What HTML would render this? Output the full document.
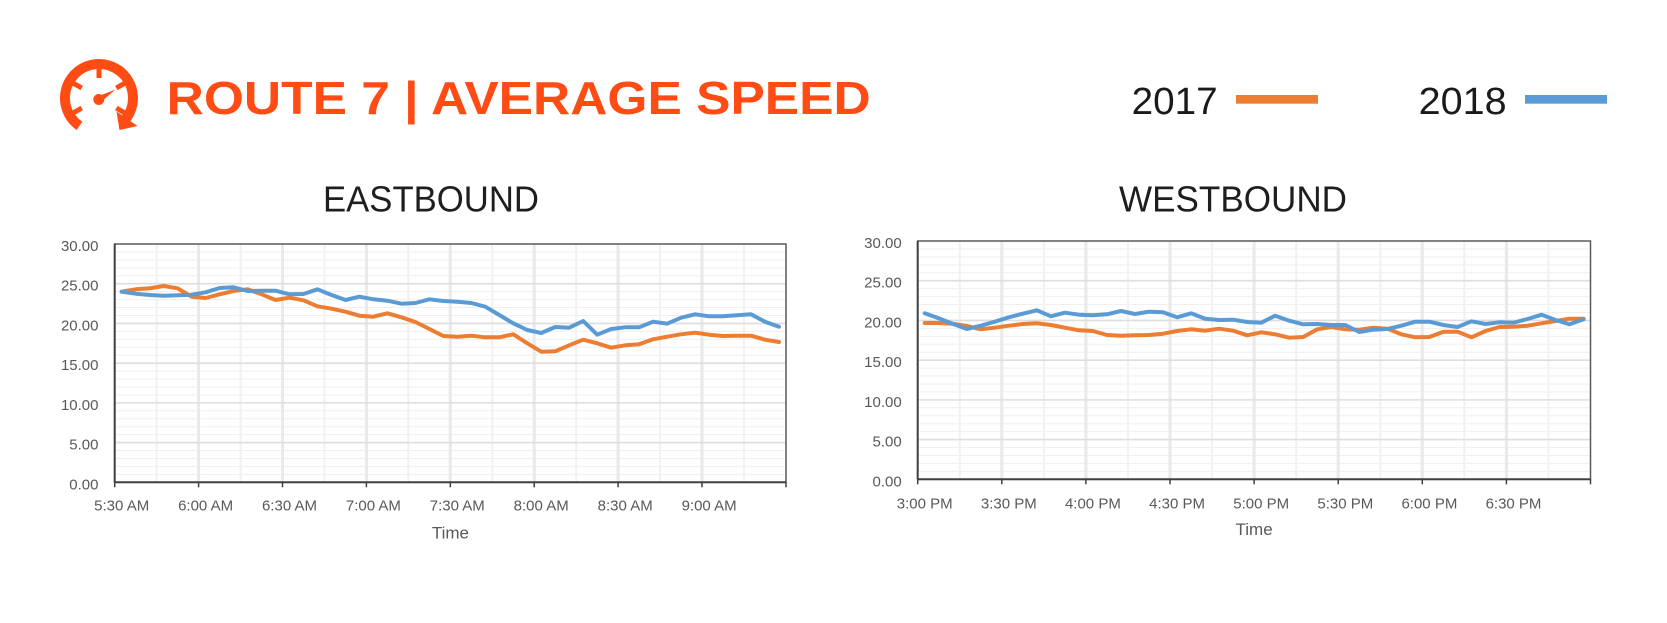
<!DOCTYPE html>
<html>
<head>
<meta charset="utf-8">
<style>
  html,body{margin:0;padding:0;background:#fff;}
  body{width:1667px;height:623px;overflow:hidden;}
  svg{display:block;font-family:"Liberation Sans",sans-serif;}
</style>
</head>
<body>
<svg width="1667" height="623" viewBox="0 0 1667 623" xmlns="http://www.w3.org/2000/svg">
  <rect x="0" y="0" width="1667" height="623" fill="#ffffff"/>

  <!-- ===== Header icon ===== -->
  <g fill="none" stroke="#FF4C15">
    <path d="M79.5,125.9 A34,34 0 1 1 125.0,119.9" stroke-width="10"/>
    <g stroke-width="5">
      <line x1="99" y1="78" x2="99" y2="69"/>
      <line x1="81.7" y1="88" x2="73.5" y2="83.3"/>
      <line x1="81.7" y1="108" x2="73.5" y2="112.8"/>
      <line x1="116.3" y1="88" x2="124.5" y2="83.3"/>
      <line x1="116.3" y1="108" x2="124.5" y2="112.8"/>
    </g>
  </g>
  <polygon points="116.5,111.5 137.5,126 119.5,130" fill="#FF4C15"/>
  <circle cx="98.8" cy="99.5" r="5.5" fill="#FF4C15"/>
  <polygon points="115.5,89.5 100.6,102.3 97.0,96.7" fill="#FF4C15"/>

  <!-- ===== Main title ===== -->
  <text x="166.7" y="114" font-size="46" font-weight="bold" fill="#FF4C15" textLength="704" lengthAdjust="spacingAndGlyphs">ROUTE 7 | AVERAGE SPEED</text>

  <!-- ===== Legend ===== -->
  <text x="1131.6" y="114" font-size="38" fill="#1a1a1a" textLength="86" lengthAdjust="spacingAndGlyphs">2017</text>
  <rect x="1236" y="95" width="82" height="8.7" fill="#ED7D31"/>
  <text x="1418.7" y="114" font-size="38" fill="#1a1a1a" textLength="88" lengthAdjust="spacingAndGlyphs">2018</text>
  <rect x="1525" y="95" width="82" height="8.7" fill="#5B9BD5"/>

  <!-- ===== Chart titles ===== -->
  <text x="323" y="211.7" font-size="36" fill="#1e1e1e" textLength="216" lengthAdjust="spacingAndGlyphs">EASTBOUND</text>
  <text x="1119" y="211.7" font-size="36" fill="#1e1e1e" textLength="228" lengthAdjust="spacingAndGlyphs">WESTBOUND</text>

  <!-- ===== EASTBOUND chart ===== -->
  <g transform="translate(114.7,482.3)">
    <g stroke="#efefef" stroke-width="1">
      <line x1="0" x2="671.3" y1="-7.94" y2="-7.94"/><line x1="0" x2="671.3" y1="-15.89" y2="-15.89"/><line x1="0" x2="671.3" y1="-23.83" y2="-23.83"/><line x1="0" x2="671.3" y1="-31.77" y2="-31.77"/>
      <line x1="0" x2="671.3" y1="-47.66" y2="-47.66"/><line x1="0" x2="671.3" y1="-55.60" y2="-55.60"/><line x1="0" x2="671.3" y1="-63.54" y2="-63.54"/><line x1="0" x2="671.3" y1="-71.49" y2="-71.49"/>
      <line x1="0" x2="671.3" y1="-87.37" y2="-87.37"/><line x1="0" x2="671.3" y1="-95.32" y2="-95.32"/><line x1="0" x2="671.3" y1="-103.26" y2="-103.26"/><line x1="0" x2="671.3" y1="-111.20" y2="-111.20"/>
      <line x1="0" x2="671.3" y1="-127.09" y2="-127.09"/><line x1="0" x2="671.3" y1="-135.03" y2="-135.03"/><line x1="0" x2="671.3" y1="-142.97" y2="-142.97"/><line x1="0" x2="671.3" y1="-150.92" y2="-150.92"/>
      <line x1="0" x2="671.3" y1="-166.80" y2="-166.80"/><line x1="0" x2="671.3" y1="-174.75" y2="-174.75"/><line x1="0" x2="671.3" y1="-182.69" y2="-182.69"/><line x1="0" x2="671.3" y1="-190.63" y2="-190.63"/>
      <line x1="0" x2="671.3" y1="-206.52" y2="-206.52"/><line x1="0" x2="671.3" y1="-214.46" y2="-214.46"/><line x1="0" x2="671.3" y1="-222.40" y2="-222.40"/><line x1="0" x2="671.3" y1="-230.35" y2="-230.35"/>
    </g>
    <g stroke="#f1f1f1" stroke-width="2">
      <line y1="0" y2="-238.3" x1="42.0" x2="42.0"/><line y1="0" y2="-238.3" x1="125.9" x2="125.9"/><line y1="0" y2="-238.3" x1="209.8" x2="209.8"/><line y1="0" y2="-238.3" x1="293.7" x2="293.7"/>
      <line y1="0" y2="-238.3" x1="377.6" x2="377.6"/><line y1="0" y2="-238.3" x1="461.5" x2="461.5"/><line y1="0" y2="-238.3" x1="545.4" x2="545.4"/><line y1="0" y2="-238.3" x1="629.3" x2="629.3"/>
    </g>
    <g stroke="#e9e9e9" stroke-width="3">
      <line y1="0" y2="-238.3" x1="83.9" x2="83.9"/><line y1="0" y2="-238.3" x1="167.8" x2="167.8"/><line y1="0" y2="-238.3" x1="251.7" x2="251.7"/><line y1="0" y2="-238.3" x1="335.6" x2="335.6"/>
      <line y1="0" y2="-238.3" x1="419.5" x2="419.5"/><line y1="0" y2="-238.3" x1="503.4" x2="503.4"/><line y1="0" y2="-238.3" x1="587.3" x2="587.3"/>
    </g>
    <g stroke="#dedede" stroke-width="1.6">
      <line x1="0" x2="671.3" y1="-39.72" y2="-39.72"/><line x1="0" x2="671.3" y1="-79.43" y2="-79.43"/><line x1="0" x2="671.3" y1="-119.15" y2="-119.15"/>
      <line x1="0" x2="671.3" y1="-158.86" y2="-158.86"/><line x1="0" x2="671.3" y1="-198.58" y2="-198.58"/>
    </g>
    <rect x="0" y="-238.3" width="671.3" height="238.3" fill="none" stroke="#595959" stroke-width="1.5"/>
    <line x1="0" y1="0" x2="0" y2="-238.3" stroke="#404040" stroke-width="2"/>
    <line x1="0" y1="0" x2="671.3" y2="0" stroke="#404040" stroke-width="2"/>
    <g stroke="#404040" stroke-width="1.5">
      <line x1="0" x2="0" y1="0" y2="5"/><line x1="83.9" x2="83.9" y1="0" y2="5"/><line x1="167.8" x2="167.8" y1="0" y2="5"/><line x1="251.7" x2="251.7" y1="0" y2="5"/>
      <line x1="335.6" x2="335.6" y1="0" y2="5"/><line x1="419.5" x2="419.5" y1="0" y2="5"/><line x1="503.4" x2="503.4" y1="0" y2="5"/><line x1="587.3" x2="587.3" y1="0" y2="5"/><line x1="671.3" x2="671.3" y1="0" y2="5"/>
    </g>
  </g>
  <g font-size="15" fill="#595959" text-anchor="end">
    <text x="98.5" y="251">30.00</text>
    <text x="98.5" y="290.7">25.00</text>
    <text x="98.5" y="330.4">20.00</text>
    <text x="98.5" y="370.2">15.00</text>
    <text x="98.5" y="409.9">10.00</text>
    <text x="98.5" y="449.6">5.00</text>
    <text x="98.5" y="489.3">0.00</text>
  </g>
  <g font-size="15" fill="#595959" text-anchor="middle">
    <text x="121.7" y="510.7">5:30 AM</text>
    <text x="205.6" y="510.7">6:00 AM</text>
    <text x="289.5" y="510.7">6:30 AM</text>
    <text x="373.4" y="510.7">7:00 AM</text>
    <text x="457.3" y="510.7">7:30 AM</text>
    <text x="541.2" y="510.7">8:00 AM</text>
    <text x="625.2" y="510.7">8:30 AM</text>
    <text x="709.1" y="510.7">9:00 AM</text>
  </g>
  <text x="450.4" y="538.3" font-size="17" fill="#595959" text-anchor="middle">Time</text>

  <polyline fill="none" stroke="#ED7D31" stroke-width="4" stroke-linejoin="round" stroke-linecap="round"
    points="121.7,291.7 135.7,289.3 149.7,288.3 163.7,286.0 177.6,288.3 191.6,296.7 205.6,298.0 219.6,294.3 233.6,291.0 247.6,289.3 261.6,294.3 275.5,300.0 289.5,297.7 303.5,300.3 317.5,306.3 331.5,308.7 345.5,311.7 359.4,315.7 373.4,316.7 387.4,313.3 401.4,317.3 415.4,322.0 429.4,329.0 443.3,336.0 457.3,336.7 471.3,335.7 485.3,337.3 499.3,337.3 513.3,334.3 527.3,343.3 541.2,351.7 555.2,351.3 569.2,345.3 583.2,339.7 597.2,343.3 611.2,347.7 625.2,345.3 639.1,344.3 653.1,339.3 667.1,336.7 681.1,334.3 695.1,332.7 709.1,334.7 723.0,336.0 737.0,335.7 751.0,335.7 765.0,339.7 779.0,342.0"/>
  <polyline fill="none" stroke="#5B9BD5" stroke-width="4" stroke-linejoin="round" stroke-linecap="round"
    points="121.7,291.7 135.7,293.7 149.7,295.0 163.7,295.7 177.6,295.3 191.6,294.7 205.6,292.3 219.6,288.0 233.6,287.3 247.6,291.0 261.6,290.7 275.5,290.7 289.5,294.3 303.5,294.0 317.5,289.3 331.5,295.0 345.5,300.0 359.4,296.7 373.4,299.3 387.4,300.7 401.4,303.7 415.4,303.0 429.4,299.3 443.3,301.0 457.3,301.7 471.3,303.0 485.3,306.7 499.3,315.0 513.3,323.3 527.3,330.0 541.2,333.0 555.2,327.0 569.2,327.7 583.2,321.0 597.2,334.7 611.2,329.0 625.2,327.3 639.1,327.3 653.1,321.7 667.1,323.7 681.1,317.7 695.1,314.3 709.1,316.3 723.0,316.3 737.0,315.3 751.0,314.3 765.0,321.7 779.0,326.7"/>

  <!-- ===== WESTBOUND chart ===== -->
  <g transform="translate(917.7,479.3)">
    <g stroke="#efefef" stroke-width="1">
      <line x1="0" x2="672.8" y1="-7.94" y2="-7.94"/><line x1="0" x2="672.8" y1="-15.89" y2="-15.89"/><line x1="0" x2="672.8" y1="-23.83" y2="-23.83"/><line x1="0" x2="672.8" y1="-31.77" y2="-31.77"/>
      <line x1="0" x2="672.8" y1="-47.66" y2="-47.66"/><line x1="0" x2="672.8" y1="-55.60" y2="-55.60"/><line x1="0" x2="672.8" y1="-63.54" y2="-63.54"/><line x1="0" x2="672.8" y1="-71.49" y2="-71.49"/>
      <line x1="0" x2="672.8" y1="-87.37" y2="-87.37"/><line x1="0" x2="672.8" y1="-95.32" y2="-95.32"/><line x1="0" x2="672.8" y1="-103.26" y2="-103.26"/><line x1="0" x2="672.8" y1="-111.20" y2="-111.20"/>
      <line x1="0" x2="672.8" y1="-127.09" y2="-127.09"/><line x1="0" x2="672.8" y1="-135.03" y2="-135.03"/><line x1="0" x2="672.8" y1="-142.97" y2="-142.97"/><line x1="0" x2="672.8" y1="-150.92" y2="-150.92"/>
      <line x1="0" x2="672.8" y1="-166.80" y2="-166.80"/><line x1="0" x2="672.8" y1="-174.75" y2="-174.75"/><line x1="0" x2="672.8" y1="-182.69" y2="-182.69"/><line x1="0" x2="672.8" y1="-190.63" y2="-190.63"/>
      <line x1="0" x2="672.8" y1="-206.52" y2="-206.52"/><line x1="0" x2="672.8" y1="-214.46" y2="-214.46"/><line x1="0" x2="672.8" y1="-222.40" y2="-222.40"/><line x1="0" x2="672.8" y1="-230.35" y2="-230.35"/>
    </g>
    <g stroke="#f1f1f1" stroke-width="2">
      <line y1="0" y2="-238.3" x1="42.05" x2="42.05"/><line y1="0" y2="-238.3" x1="126.2" x2="126.2"/><line y1="0" y2="-238.3" x1="210.3" x2="210.3"/><line y1="0" y2="-238.3" x1="294.4" x2="294.4"/>
      <line y1="0" y2="-238.3" x1="378.5" x2="378.5"/><line y1="0" y2="-238.3" x1="462.6" x2="462.6"/><line y1="0" y2="-238.3" x1="546.7" x2="546.7"/><line y1="0" y2="-238.3" x1="630.8" x2="630.8"/>
    </g>
    <g stroke="#e9e9e9" stroke-width="3">
      <line y1="0" y2="-238.3" x1="84.1" x2="84.1"/><line y1="0" y2="-238.3" x1="168.2" x2="168.2"/><line y1="0" y2="-238.3" x1="252.3" x2="252.3"/><line y1="0" y2="-238.3" x1="336.4" x2="336.4"/>
      <line y1="0" y2="-238.3" x1="420.5" x2="420.5"/><line y1="0" y2="-238.3" x1="504.6" x2="504.6"/><line y1="0" y2="-238.3" x1="588.7" x2="588.7"/>
    </g>
    <g stroke="#dedede" stroke-width="1.6">
      <line x1="0" x2="672.8" y1="-39.72" y2="-39.72"/><line x1="0" x2="672.8" y1="-79.43" y2="-79.43"/><line x1="0" x2="672.8" y1="-119.15" y2="-119.15"/>
      <line x1="0" x2="672.8" y1="-158.86" y2="-158.86"/><line x1="0" x2="672.8" y1="-198.58" y2="-198.58"/>
    </g>
    <rect x="0" y="-238.3" width="672.8" height="238.3" fill="none" stroke="#595959" stroke-width="1.5"/>
    <line x1="0" y1="0" x2="0" y2="-238.3" stroke="#404040" stroke-width="2"/>
    <line x1="0" y1="0" x2="672.8" y2="0" stroke="#404040" stroke-width="2"/>
    <g stroke="#404040" stroke-width="1.5">
      <line x1="0" x2="0" y1="0" y2="5"/><line x1="84.1" x2="84.1" y1="0" y2="5"/><line x1="168.2" x2="168.2" y1="0" y2="5"/><line x1="252.3" x2="252.3" y1="0" y2="5"/>
      <line x1="336.4" x2="336.4" y1="0" y2="5"/><line x1="420.5" x2="420.5" y1="0" y2="5"/><line x1="504.6" x2="504.6" y1="0" y2="5"/><line x1="588.7" x2="588.7" y1="0" y2="5"/><line x1="672.8" x2="672.8" y1="0" y2="5"/>
    </g>
  </g>
  <g font-size="15" fill="#595959" text-anchor="end">
    <text x="901.7" y="248">30.00</text>
    <text x="901.7" y="287.7">25.00</text>
    <text x="901.7" y="327.4">20.00</text>
    <text x="901.7" y="367.2">15.00</text>
    <text x="901.7" y="406.9">10.00</text>
    <text x="901.7" y="446.6">5.00</text>
    <text x="901.7" y="486.3">0.00</text>
  </g>
  <g font-size="15" fill="#595959" text-anchor="middle">
    <text x="924.7" y="508.3">3:00 PM</text>
    <text x="1008.8" y="508.3">3:30 PM</text>
    <text x="1092.9" y="508.3">4:00 PM</text>
    <text x="1177.1" y="508.3">4:30 PM</text>
    <text x="1261.2" y="508.3">5:00 PM</text>
    <text x="1345.3" y="508.3">5:30 PM</text>
    <text x="1429.4" y="508.3">6:00 PM</text>
    <text x="1513.5" y="508.3">6:30 PM</text>
  </g>
  <text x="1254.1" y="535" font-size="17" fill="#595959" text-anchor="middle">Time</text>

  <polyline fill="none" stroke="#ED7D31" stroke-width="4" stroke-linejoin="round" stroke-linecap="round"
    points="924.7,323.0 938.7,323.0 952.7,323.7 966.8,326.0 980.8,329.3 994.8,327.7 1008.8,325.7 1022.8,324.0 1036.9,323.3 1050.9,325.0 1064.9,327.7 1078.9,330.3 1092.9,331.0 1107.0,335.0 1121.0,335.7 1135.0,335.3 1149.0,335.0 1163.0,333.7 1177.1,331.0 1191.1,329.3 1205.1,330.7 1219.1,328.7 1233.1,330.7 1247.2,335.3 1261.2,332.3 1275.2,334.3 1289.2,337.7 1303.2,337.0 1317.3,329.3 1331.3,327.0 1345.3,329.3 1359.3,329.7 1373.3,327.7 1387.4,328.7 1401.4,334.3 1415.4,337.3 1429.4,337.0 1443.4,331.7 1457.5,331.7 1471.5,337.3 1485.5,331.0 1499.5,327.0 1513.5,326.7 1527.6,325.7 1541.6,323.3 1555.6,321.0 1569.6,318.7 1583.6,318.7"/>
  <polyline fill="none" stroke="#5B9BD5" stroke-width="4" stroke-linejoin="round" stroke-linecap="round"
    points="924.7,313.3 938.7,318.3 952.7,323.7 966.8,329.0 980.8,325.7 994.8,321.7 1008.8,317.3 1022.8,313.7 1036.9,310.3 1050.9,316.3 1064.9,312.7 1078.9,314.7 1092.9,315.3 1107.0,314.3 1121.0,311.0 1135.0,314.0 1149.0,311.7 1163.0,312.3 1177.1,317.3 1191.1,313.3 1205.1,318.7 1219.1,320.0 1233.1,319.7 1247.2,322.0 1261.2,322.7 1275.2,315.7 1289.2,320.7 1303.2,324.3 1317.3,324.0 1331.3,325.0 1345.3,325.0 1359.3,332.0 1373.3,329.7 1387.4,329.0 1401.4,325.7 1415.4,321.7 1429.4,321.7 1443.4,325.0 1457.5,327.0 1471.5,321.3 1485.5,324.0 1499.5,322.3 1513.5,322.7 1527.6,319.0 1541.6,314.7 1555.6,320.0 1569.6,324.3 1583.6,319.3"/>
</svg>
</body>
</html>
